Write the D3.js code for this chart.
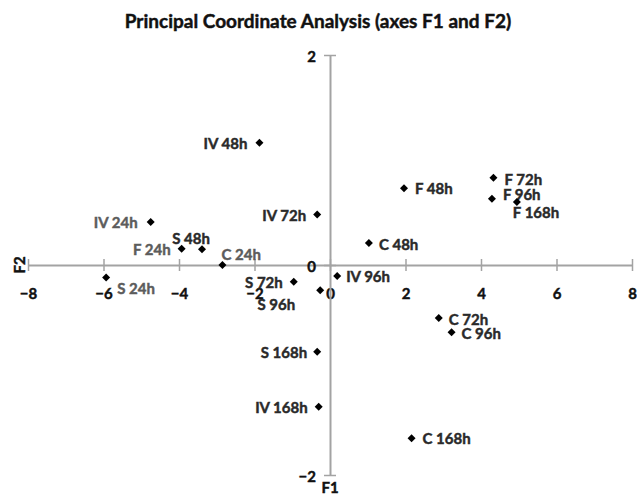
<!DOCTYPE html>
<html>
<head>
<meta charset="utf-8">
<script src="https://cdn.jsdelivr.net/npm/d3@7"></script>
<style>
  html, body { margin: 0; padding: 0; background: #fff; }
  svg { display: block; font-family: Lato, "Open Sans", sans-serif; }
</style>
</head>
<body>
<svg id="chart" width="637" height="495"></svg>
<script>
// Sample observations: treatment + time point, with their F1 / F2 coordinates
const labels = ["IV 48h", "IV 72h", "IV 24h", "S 48h", "F 24h", "C 24h", "S 24h",
                "S 72h", "S 96h", "IV 96h", "S 168h", "IV 168h", "C 168h", "F 48h",
                "F 72h", "F 96h", "F 168h", "C 48h", "C 72h", "C 96h"];
const f1 = [-1.87, -0.34, -4.75, -3.39, -3.93, -2.85, -5.93,
            -0.96, -0.26, 0.19, -0.34, -0.30, 2.16, 1.96,
            4.33, 4.29, 4.95, 1.03, 2.88, 3.22];
const f2 = [1.165, 0.48, 0.41, 0.15, 0.155, 0.0, -0.12,
            -0.16, -0.24, -0.105, -0.825, -1.35, -1.65, 0.73,
            0.83, 0.63, 0.60, 0.21, -0.505, -0.64];

const xTicks = [-8, -6, -4, -2, 0, 2, 4, 6, 8];
const yTicks = [-2, 0, 2];
const xDomain = [-8, 8];
const yDomain = [-2, 2];

// Where each point's label sits relative to its marker
const labelPlacement = {
  "IV 48h": { anchor: "end", dx: -12, dy: 0 },
  "IV 72h": { anchor: "end", dx: -11, dy: 0 },
  "IV 24h": { anchor: "end", dx: -13, dy: 0 },
  "S 48h":  { anchor: "middle", dx: -11, dy: -11 },
  "F 24h":  { anchor: "end", dx: -11, dy: 0 },
  "C 24h":  { anchor: "start", dx: -1, dy: -11 },
  "S 24h":  { anchor: "start", dx: 11, dy: 10 },
  "S 72h":  { anchor: "end", dx: -11, dy: 0 },
  "S 96h":  { anchor: "end", dx: -25, dy: 14 },
  "IV 96h": { anchor: "start", dx: 9, dy: 0 },
  "S 168h": { anchor: "end", dx: -10, dy: 0 },
  "IV 168h":{ anchor: "end", dx: -11, dy: 0 },
  "C 168h": { anchor: "start", dx: 11, dy: 0 },
  "F 48h":  { anchor: "start", dx: 11, dy: 0 },
  "F 72h":  { anchor: "start", dx: 11, dy: 1 },
  "F 96h":  { anchor: "start", dx: 11, dy: -5 },
  "F 168h": { anchor: "start", dx: -4, dy: 10 },
  "C 48h":  { anchor: "start", dx: 10, dy: 1 },
  "C 72h":  { anchor: "start", dx: 10, dy: 1 },
  "C 96h":  { anchor: "start", dx: 10, dy: 1 }
};
// The 24h samples are printed in a lighter grey
const lightLabels = new Set(["IV 24h", "F 24h", "C 24h", "S 24h"]);

const svg = d3.select("#chart");
const x = d3.scaleLinear().domain(xDomain).range([28, 632]);
const y = d3.scaleLinear().domain(yDomain).range([475, 55]);

const axisColor = "#a3a3a3";

// Bold text with a thin outline in its own colour for a heavier stroke
function heavyText(sel, color, size) {
  return sel.attr("font-size", size).attr("font-weight", 700)
    .attr("fill", color).attr("stroke", color).attr("stroke-width", 0.45)
    .attr("font-family", "Lato, sans-serif");
}

// Title
heavyText(svg.append("text"), "#111", 19)
  .attr("x", 318).attr("y", 20)
  .attr("text-anchor", "middle").attr("dominant-baseline", "central")
  .text("Principal Coordinate Analysis (axes F1 and F2)");

// Horizontal axis (F1) through y = 0
const gx = svg.append("g")
  .attr("transform", `translate(0,${y(0)})`)
  .call(d3.axisBottom(x).tickValues(xTicks).tickSizeOuter(0).tickFormat(d3.format("d")));
gx.select(".domain").attr("stroke", axisColor).attr("stroke-width", 2);
gx.selectAll(".tick line").attr("stroke", axisColor).attr("stroke-width", 1.5)
  .attr("y1", -6).attr("y2", 6);
heavyText(gx.selectAll(".tick text"), "#111", 15)
  .attr("y", 28).attr("dy", null).attr("dominant-baseline", "central");

// Vertical axis (F2) through x = 0
const gy = svg.append("g")
  .attr("transform", `translate(${x(0)},0)`)
  .call(d3.axisLeft(y).tickValues(yTicks).tickSizeOuter(0).tickFormat(d3.format("d")));
gy.select(".domain").attr("stroke", axisColor).attr("stroke-width", 2);
gy.selectAll(".tick line").attr("stroke", axisColor).attr("stroke-width", 1.5)
  .attr("x1", -6).attr("x2", 6);
heavyText(gy.selectAll(".tick text"), "#111", 15)
  .attr("x", -14).attr("dy", null).attr("dominant-baseline", "central");

// Axis titles
heavyText(svg.append("text"), "#111", 15)
  .attr("transform", `translate(19,${y(0)}) rotate(-90)`)
  .attr("text-anchor", "middle").attr("dominant-baseline", "central")
  .text("F2");
heavyText(svg.append("text"), "#111", 15)
  .attr("x", x(0)).attr("y", 487)
  .attr("text-anchor", "middle").attr("dominant-baseline", "central")
  .text("F1");

// Points: small filled diamonds (a square turned 45 degrees)
const data = labels.map((name, i) => ({ name, f1: f1[i], f2: f2[i] }));
const marker = d3.symbol().type(d3.symbolSquare).size(32);

const pts = svg.append("g").selectAll("g")
  .data(data).join("g")
  .attr("transform", d => `translate(${x(d.f1)},${y(d.f2)})`);

pts.append("path").attr("d", marker).attr("transform", "rotate(45)").attr("fill", "#000");

pts.append("text")
  .attr("x", d => labelPlacement[d.name].dx)
  .attr("y", d => labelPlacement[d.name].dy)
  .attr("text-anchor", d => labelPlacement[d.name].anchor)
  .attr("dominant-baseline", "central")
  .each(function (d) {
    heavyText(d3.select(this), lightLabels.has(d.name) ? "#5c5c5c" : "#2a2a2a", 15);
  })
  .text(d => d.name);
</script>
</body>
</html>
